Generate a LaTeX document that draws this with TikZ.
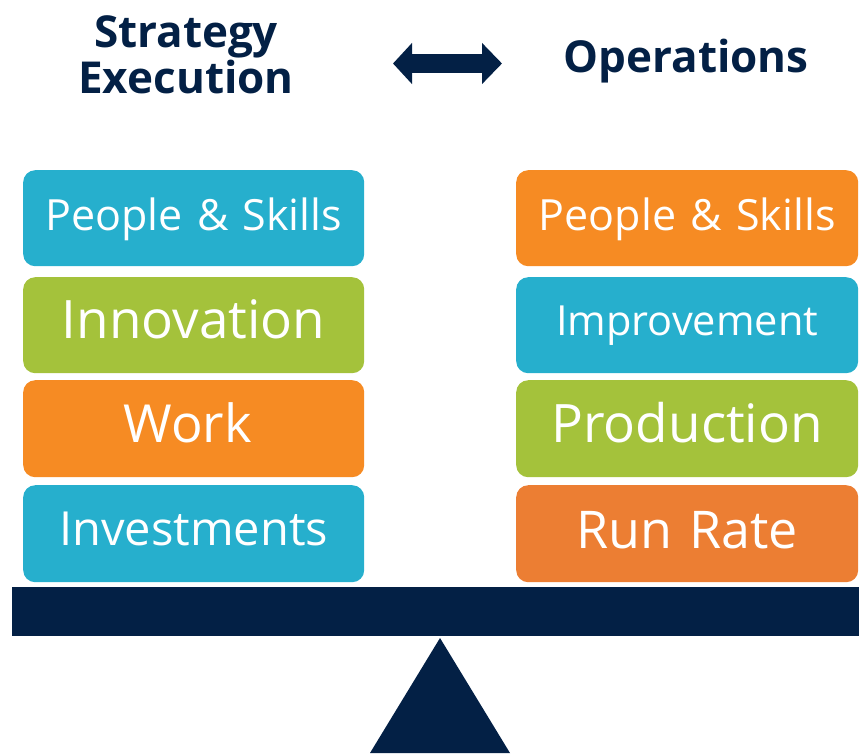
\documentclass[tikz,border=0pt]{standalone}
\usepackage{fontspec}
\setmainfont{Open Sans}
\usetikzlibrary{arrows.meta}

\definecolor{navy}{RGB}{3,32,69}
\definecolor{teal}{RGB}{38,175,205}
\definecolor{lime}{RGB}{164,194,59}
\definecolor{amber}{RGB}{246,139,35}
\definecolor{rust}{RGB}{236,126,51}

\newcommand{\fsz}[1]{\fontsize{#1}{#1}\selectfont}

\begin{document}
\begin{tikzpicture}[x=1pt,y=-1pt,
  block/.style={rounded corners=12pt, inner sep=0pt, anchor=north west,
    text width=#1, align=center, text=white},
  block/.default=341pt,
  heading/.style={inner sep=0pt, text=navy, align=center,
    font=\bfseries\fontsize{44}{46}\selectfont},
]
\useasboundingbox (0,0) rectangle (859,753);

% headings and the double arrow between them
\node[heading, anchor=base] (strat) at (186,93) {Strategy\\Execution};
\node[heading, anchor=base] (ops) at (686,72) {Operations};
\coordinate (arL) at (393,63.5);
\coordinate (arR) at (502,63.5);
\draw[navy, line width=19pt,
  {Triangle[length=19pt,width=40pt]}-{Triangle[length=20pt,width=40pt]}]
  (arL) -- (arR);

% left stack
\node[block, fill=teal, text height=60pt, text depth=36pt, font=\fsz{43}]
  (l1) at (23,170) {People \& Skills};
\node[block, fill=lime, text height=61pt, text depth=35pt, font=\fsz{53}]
  (l2) at (23,277) {Innovation};
\node[block, fill=amber, text height=62pt, text depth=35pt, font=\fsz{52.5}]
  (l3) at (23,380) {Work\hspace*{12pt}};
\node[block, fill=teal, text height=60pt, text depth=37pt, font=\fsz{47}]
  (l4) at (23,485) {Investments};

% right stack
\node[block=342pt, fill=amber, text height=60pt, text depth=36pt, font=\fsz{43}]
  (r1) at (516,170) {People \& Skills};
\node[block=342pt, fill=teal, text height=58pt, text depth=38pt, font=\fsz{41.5}]
  (r2) at (516,277) {Improvement};
\node[block=342pt, fill=lime, text height=62pt, text depth=35pt, font=\fsz{53}]
  (r3) at (516,380) {Production};
\node[block=342pt, fill=rust, text height=63pt, text depth=34pt, font=\fsz{52}]
  (r4) at (516,485) {Run Rate};

% balance beam and fulcrum
\node[fill=navy, inner sep=0pt, anchor=north west, minimum width=847pt,
  minimum height=49pt] (beam) at (12,587) {};
\coordinate (apex) at (440,638);
\fill[navy] (apex) -- (370,753) -- (510,753) -- cycle;
\end{tikzpicture}
\end{document}
